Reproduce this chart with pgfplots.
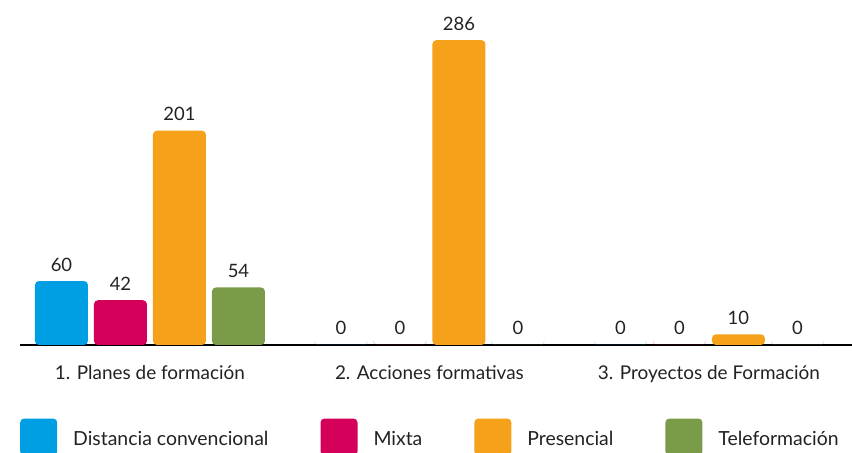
\documentclass[border=0pt]{standalone}
\usepackage{pgfplots}
\pgfplotsset{compat=1.18}
\usepackage{fontspec}
\setmainfont{Lato}
\definecolor{cblue}{HTML}{009FE3}
\definecolor{cmag}{HTML}{D5005A}
\definecolor{corange}{HTML}{F5A11A}
\definecolor{cgreen}{HTML}{7A9B48}
\definecolor{ctext}{HTML}{222222}
\begin{document}
\begin{tikzpicture}
\useasboundingbox (0,0) rectangle (852bp,453bp);
\begin{axis}[
  at={(20bp,108bp)}, anchor=south west,
  scale only axis, width=832bp, height=345bp,
  xmin=-0.465, xmax=2.512, ymin=0, ymax=323.6,
  ybar=6bp, bar width=53bp,
  /pgf/number format/assume math mode=true,
  hide y axis,
  axis x line*=bottom,
  x axis line style={line width=2bp, black, -},
  xtick={0,1,2},
  xticklabels={1. Planes de formación, 2. Acciones formativas, 3. Proyectos de Formación},
  major tick length=0pt,
  xticklabel style={font=\fontsize{19}{22}\selectfont, text=ctext, yshift=-17bp},
  nodes near coords,
  every node near coord/.append style={font=\fontsize{18.5}{22}\selectfont, text=ctext, inner sep=0pt, anchor=base, yshift=10bp},
  legend columns=4,
  legend style={draw=none, fill=none, at={(0,-0.2667)}, anchor=west, inner xsep=0pt, inner ysep=0pt,
    font=\fontsize{19.5}{22}\selectfont, text=ctext,
    /tikz/every even column/.append style={column sep=36bp},
    nodes={inner xsep=16bp, yshift=-3bp}},
  legend image code/.code={\fill[rounded corners=4bp] (0bp,-19bp) rectangle (37bp,18bp);},
  legend cell align=left,
]
\addplot[fill=cblue, draw=none, rounded corners=4bp] coordinates {(0,60) (1,0) (2,0)};
\addplot[fill=cmag, draw=none, rounded corners=4bp] coordinates {(0,42) (1,0) (2,0)};
\addplot[fill=corange, draw=none, rounded corners=4bp] coordinates {(0,201) (1,286) (2,10)};
\addplot[fill=cgreen, draw=none, rounded corners=4bp] coordinates {(0,54) (1,0) (2,0)};
\legend{Distancia convencional, Mixta, Presencial, Teleformación}
\end{axis}
\end{tikzpicture}
\end{document}
